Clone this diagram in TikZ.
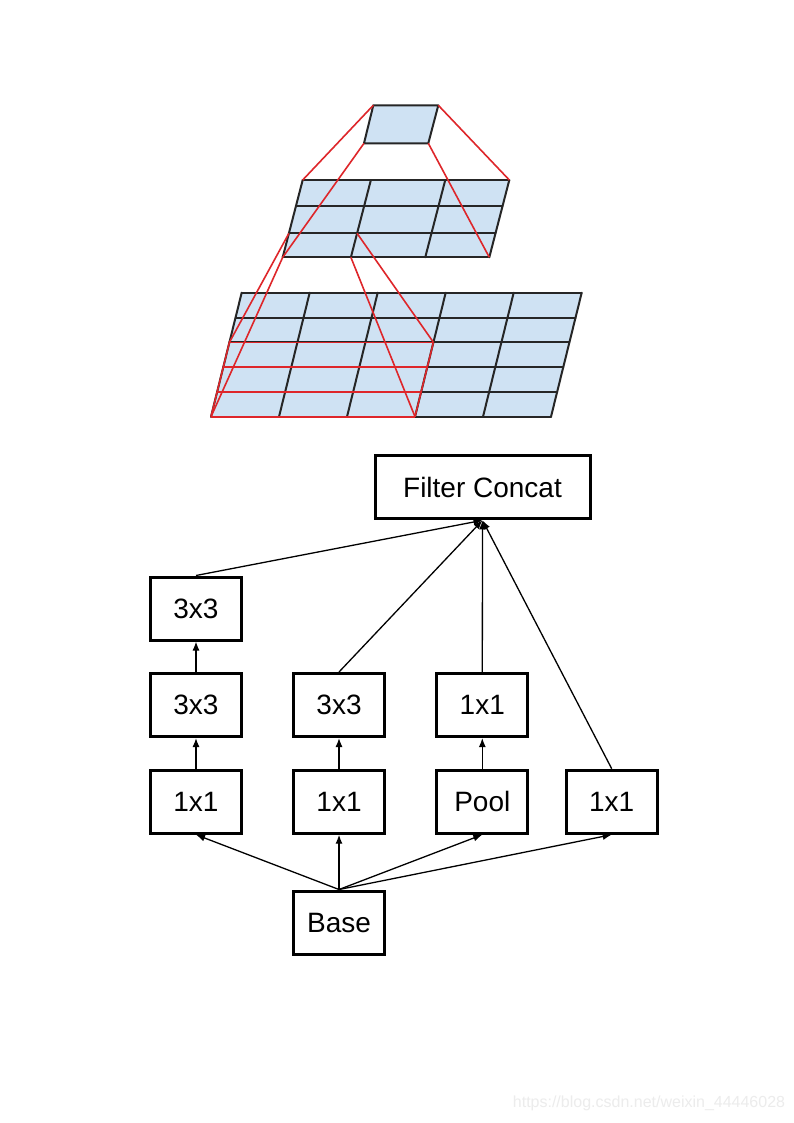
\documentclass[tikz,border=0pt]{standalone}
\usepackage{fontspec}
\setmainfont{Liberation Sans}
\usetikzlibrary{arrows.meta}
\definecolor{cellblue}{RGB}{207,226,243}
\definecolor{pyrred}{RGB}{222,38,42}
\definecolor{wmgray}{RGB}{236,236,236}
\begin{document}
\begin{tikzpicture}[x=1pt,y=-1pt,
  gridline/.style={black!85,line width=2pt,line cap=round},
  redline/.style={pyrred,line width=1.6pt},
  box/.style={draw=black,line width=3pt,fill=white,minimum width=91pt,minimum height=63pt,inner sep=0pt,font=\fontsize{28}{32}\selectfont},
  wide/.style={box,minimum width=215pt},
  conn/.style={black,line width=1.3pt,-{Latex[length=9pt,width=7pt]}}]
\useasboundingbox[fill=white] (0,0) rectangle (794,1123);

% ---------- lower grid (5x5) ----------
\begin{scope}[shift={(241.7,292.7)},x={(68pt,0pt)},y={(-6.14pt,-24.8pt)}]
  \fill[cellblue] (0,0) -- (5,0) -- (5,5) -- (0,5) -- cycle;
  \foreach \i in {0,...,5} \draw[gridline] (\i,0) -- (\i,5);
  \foreach \j in {0,...,5} \draw[gridline] (0,\j) -- (5,\j);
  \foreach \j in {2,3,4,5} \draw[redline] (0,\j) -- (3,\j);
  \draw[redline] (0,2) -- (0,5);
  \draw[redline] (3,2) -- (3,5);
  \coordinate (LTL) at (0,2);
  \coordinate (LTR) at (3,2);
  \coordinate (LBL) at (0,5);
  \coordinate (LBR) at (3,5);
\end{scope}

% ---------- middle grid (3x3) ----------
\begin{scope}[shift={(302.7,180)},x={(206.6pt,0pt)},y={(-20pt,-77.3pt)}]
  \fill[cellblue] (0,0) -- (1,0) -- (1,1) -- (0,1) -- cycle;
  \foreach \i in {0,0.33,0.69,1} \draw[gridline] (\i,0) -- (\i,1);
  \foreach \j in {0,0.336,0.69,1} \draw[gridline] (0,\j) -- (1,\j);
  \coordinate (MTL) at (0,0);
  \coordinate (MTR) at (1,0);
  \coordinate (MBL) at (0,1);
  \coordinate (MBR) at (1,1);
  \coordinate (CTL) at (0,0.69);
  \coordinate (CTR) at (0.33,0.69);
  \coordinate (CBL) at (0,1);
  \coordinate (CBR) at (0.33,1);
\end{scope}

% ---------- top cell ----------
\coordinate (TTL) at (373.3,105.3);
\coordinate (TTR) at (438.3,105.3);
\coordinate (TBR) at (428.3,143.3);
\coordinate (TBL) at (364,143.3);
\fill[cellblue] (TTL) -- (TTR) -- (TBR) -- (TBL) -- cycle;
\draw[gridline,line join=round] (TTL) -- (TTR) -- (TBR) -- (TBL) -- cycle;

% ---------- red projection lines ----------
\draw[redline] (TTL) -- (MTL);
\draw[redline] (TTR) -- (MTR);
\draw[redline] (TBL) -- (MBL);
\draw[redline] (TBR) -- (MBR);
\draw[redline] (CTL) -- (LTL);
\draw[redline] (CTR) -- (LTR);
\draw[redline] (CBL) -- (LBL);
\draw[redline] (CBR) -- (LBR);

% ---------- inception module ----------
\node[wide] (fc) at (482.5,487.3) {Filter Concat};
\node[box] (a3) at (196,608.5) {3x3};
\node[box] (a2) at (196,705) {3x3};
\node[box] (a1) at (196,801.7) {1x1};
\node[box] (b2) at (339,705) {3x3};
\node[box] (b1) at (339,801.7) {1x1};
\node[box] (c2) at (482.3,705) {1x1};
\node[box] (c1) at (482.3,801.7) {Pool};
\node[box] (d1) at (611.7,801.7) {1x1};
\node[box] (base) at (339,922.5) {Base};

\draw[conn] (base.north) -- (a1.south);
\draw[conn] (base.north) -- (b1.south);
\draw[conn] (base.north) -- (c1.south);
\draw[conn] (base.north) -- (d1.south);
\draw[conn] (a1.north) -- (a2.south);
\draw[conn] (a2.north) -- (a3.south);
\draw[conn] (b1.north) -- (b2.south);
\draw[conn] (c1.north) -- (c2.south);
\draw[conn] (a3.north) -- (fc.south);
\draw[conn] (b2.north) -- (fc.south);
\draw[conn] (c2.north) -- (fc.south);
\draw[conn] (d1.north) -- (fc.south);

% ---------- watermark ----------
\node[text=wmgray,font=\fontsize{16}{19}\selectfont,inner sep=0pt] (wm) at (649,1103) {https://blog.csdn.net/weixin\_44446028};
\end{tikzpicture}
\end{document}
